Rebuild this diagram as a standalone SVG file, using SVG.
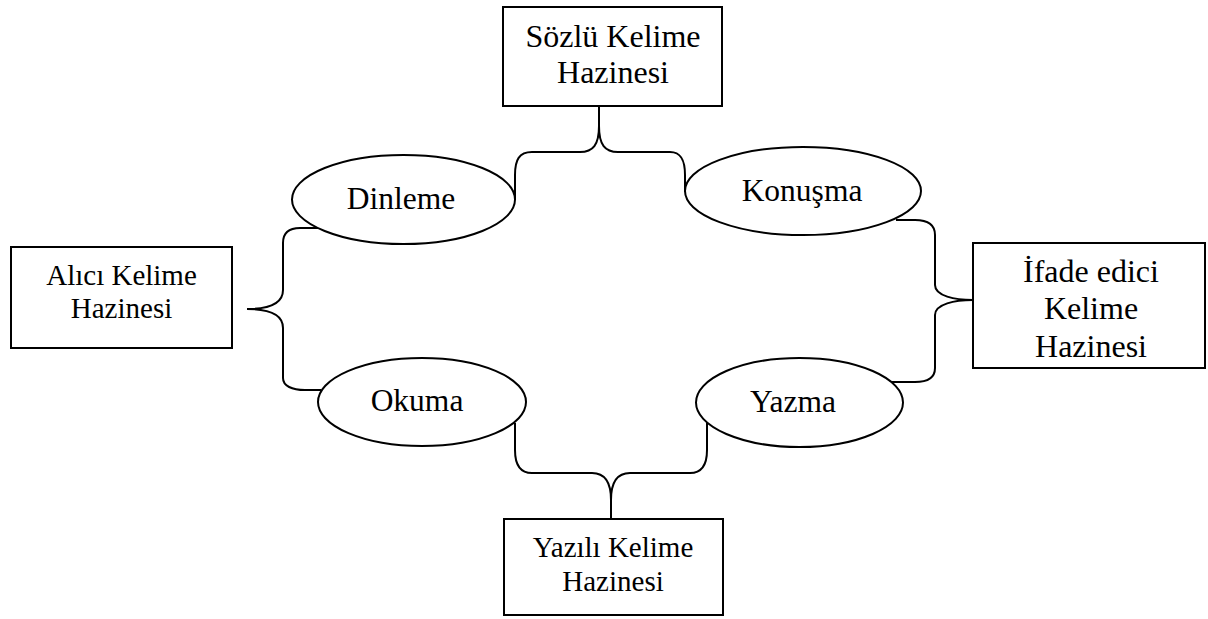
<svg xmlns="http://www.w3.org/2000/svg" width="1208" height="619" viewBox="0 0 1208 619">
<style>
.box{fill:#fff;stroke:#000;stroke-width:2}
.ell{fill:#fff;stroke:#000;stroke-width:2}
.br{fill:none;stroke:#000;stroke-width:2}
text{font-family:"Liberation Serif","Times New Roman",serif;fill:#000;text-anchor:middle}
.t{font-size:32px}
.s{font-size:29px}
.e{font-size:31.5px}
</style>
<rect width="1208" height="619" fill="#fff"/>
<g id="connectors">
<path class="br" d="M599 106 L599 126 C599 145 593 152 580 152 L532 152 C519 152 515 160 515 175 L515 200"/>
<path class="br" d="M599 126 C599 145 605 152 618 152 L670 152 C681 152 685 160 685 175 L685 192"/>
<path class="br" d="M247 309 C265 309 283 305 283 290 L283 243 C283 232 290 228 300 228 L318 228"/>
<path class="br" d="M247 309 C265 309 283 313 283 328 L283 378 C283 386 292 390 305 390 L321 390"/>
<path class="br" d="M973 300 C955 300 935 296 935 285 L935 235 C935 225 928 220 915 220 L896 220"/>
<path class="br" d="M973 300 C955 300 935 304 935 315 L935 368 C935 378 928 382 915 382 L891 382"/>
<path class="br" d="M611 519 L611 500 C611 482 605 473 592 473 L532 473 C520 473 515 465 515 450 L515 423"/>
<path class="br" d="M611 500 C611 482 617 473 630 473 L690 473 C702 473 707 465 707 450 L707 423"/>
</g>
<g id="sozlu">
<rect class="box" x="503" y="7" width="219" height="99"/>
<text class="t" x="613" y="47">Sözlü Kelime</text>
<text class="t" x="613" y="83">Hazinesi</text>
</g>
<g id="alici">
<rect class="box" x="11" y="247" width="221" height="101"/>
<text class="s" x="121.5" y="285">Alıcı Kelime</text>
<text class="s" x="121.5" y="318">Hazinesi</text>
</g>
<g id="ifade">
<rect class="box" x="973" y="243" width="232" height="125"/>
<text class="t" x="1091" y="282">İfade edici</text>
<text class="t" x="1091" y="319">Kelime</text>
<text class="t" x="1091" y="357">Hazinesi</text>
</g>
<g id="yazili">
<rect class="box" x="504" y="519" width="219" height="96"/>
<text class="s" x="613" y="557">Yazılı Kelime</text>
<text class="s" x="613" y="591">Hazinesi</text>
</g>
<g id="dinleme">
<ellipse class="ell" cx="403.5" cy="199.5" rx="111.5" ry="44.5"/>
<text class="e" x="401" y="209">Dinleme</text>
</g>
<g id="konusma">
<ellipse class="ell" cx="803" cy="191" rx="118" ry="44"/>
<text class="e" x="802" y="201">Konuşma</text>
</g>
<g id="okuma">
<ellipse class="ell" cx="422" cy="402" rx="104" ry="44"/>
<text class="e" x="417" y="411">Okuma</text>
</g>
<g id="yazma">
<ellipse class="ell" cx="799.5" cy="402.5" rx="103.5" ry="44.5"/>
<text class="e" x="793" y="412">Yazma</text>
</g>
</svg>
